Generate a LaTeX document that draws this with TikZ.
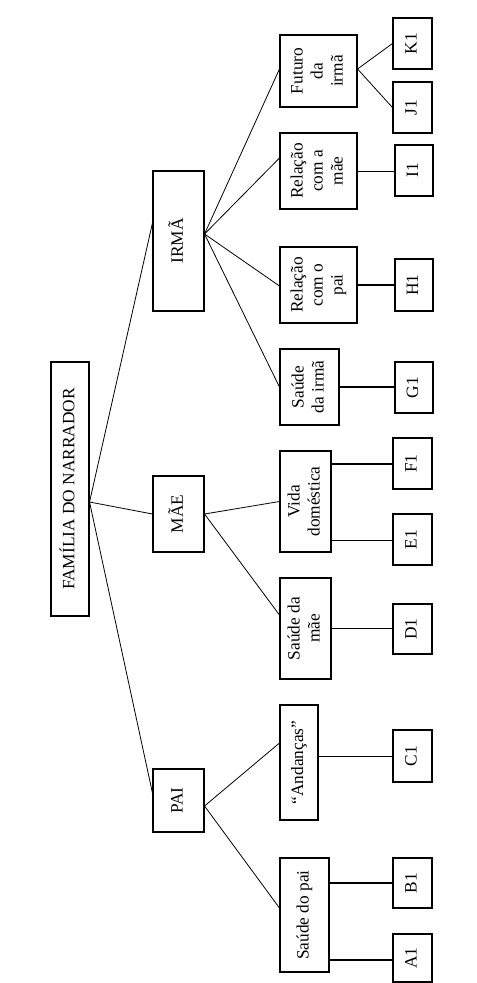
\documentclass[tikz,border=0pt]{standalone}
\usepackage{fontspec}
\setmainfont{Liberation Serif}
\usetikzlibrary{calc}
\tikzset{
  bx/.style={draw, line width=0.8pt, inner sep=0pt, anchor=center, font=\fontsize{13}{15}\selectfont},
  ln/.style={line width=0.6pt},
  lf/.style={line width=0.8pt}
}
\newcommand\bxnode[6]{\node[bx, minimum width={(#4-#2)*0.75pt}, minimum height={(#5-#3)*0.75pt}] (#1) at ({(#2+#4)/2},{(#3+#5)/2}) {\rotatebox{90}{\begin{tabular}{@{}c@{}}#6\end{tabular}}};}
\begin{document}
\begin{tikzpicture}[x=0.75pt,y=-0.75pt]
\useasboundingbox (0,0) rectangle (477,983);
% level 0-1
\bxnode{fam}{51}{362}{89}{616}{FAMÍLIA DO NARRADOR}
\bxnode{pai}{153}{769}{204}{832}{PAI}
\bxnode{mae}{153}{476}{204}{552}{MÃE}
\bxnode{irma}{153}{171}{204}{311}{IRMÃ}
% level 2
\bxnode{spai}{280}{858}{329}{972}{Saúde do pai}
\bxnode{andn}{280}{705}{318}{820}{“Andanças”}
\bxnode{smae}{280}{578}{331}{679}{Saúde da\\mãe}
\bxnode{vida}{280}{451}{331}{552}{Vida\\doméstica}
\bxnode{sirma}{280}{349}{339}{425}{Saúde\\da irmã}
\bxnode{rpai}{280}{247}{357}{323}{Relação\\com o\\pai}
\bxnode{rmae}{280}{133}{357}{209}{Relação\\com a\\mãe}
\bxnode{fut}{280}{35}{357}{107}{Futuro\\da\\irmã}
% leaves
\bxnode{A1}{393}{934}{432}{982}{A1}
\bxnode{B1}{393}{858}{432}{908}{B1}
\bxnode{C1}{393}{730}{432}{782}{C1}
\bxnode{D1}{393}{604}{432}{654}{D1}
\bxnode{E1}{393}{514}{432}{565}{E1}
\bxnode{F1}{393}{438}{432}{489}{F1}
\bxnode{G1}{395}{362}{433}{413}{G1}
\bxnode{H1}{395}{259}{433}{311}{H1}
\bxnode{I1}{395}{145}{433}{196}{I1}
\bxnode{J1}{393}{82}{432}{133}{J1}
\bxnode{K1}{393}{18}{432}{69}{K1}
% branch points
\coordinate (fb) at ($(fam.east)+(0,13)$);
\coordinate (pb) at ($(pai.east)+(0,5.5)$);
\coordinate (ib) at ($(irma.east)+(0,-7)$);
\coordinate (fx) at ($(fut.east)+(0,-2)$);
\coordinate (sa) at ($(spai.east)+(0,45)$);
\coordinate (sb) at ($(spai.east)+(0,-32)$);
\coordinate (ac) at ($(andn.east)+(0,-6.5)$);
\coordinate (ve) at ($(vida.east)+(0,38.5)$);
\coordinate (vf) at ($(vida.east)+(0,-37.5)$);
% connectors
\draw[ln] (fb) -- ($(pai.west)+(0,-7.5)$);
\draw[ln] (fb) -- (mae.west);
\draw[ln] (fb) -- ($(irma.west)+(0,-18)$);
\draw[ln] (pb) -- ($(andn.west)+(0,-19.5)$);
\draw[ln] (pb) -- ($(spai.west)+(0,-7)$);
\draw[ln] (mae.east) -- (vida.west);
\draw[ln] (mae.east) -- ($(smae.west)+(0,-13.5)$);
\draw[ln] (ib) -- (sirma.west);
\draw[ln] (ib) -- ($(rpai.west)+(0,1)$);
\draw[ln] (ib) -- ($(rmae.west)+(0,-13)$);
\draw[ln] (ib) -- ($(fut.west)+(0,-2)$);
\draw[lf] (sa) -- (sa -| A1.west);
\draw[lf] (sb) -- (sb -| B1.west);
\draw[ln] (ac) -- (ac -| C1.west);
\draw[ln] (smae.east) -- (smae.east -| D1.west);
\draw[ln] (ve) -- (ve -| E1.west);
\draw[lf] (vf) -- (vf -| F1.west);
\draw[lf] (sirma.east) -- (sirma.east -| G1.west);
\draw[lf] (rpai.east) -- (rpai.east -| H1.west);
\draw[ln] (rmae.east) -- (rmae.east -| I1.west);
\draw[ln] (fx) -- (J1.west);
\draw[ln] (fx) -- (K1.west);
\end{tikzpicture}
\end{document}
